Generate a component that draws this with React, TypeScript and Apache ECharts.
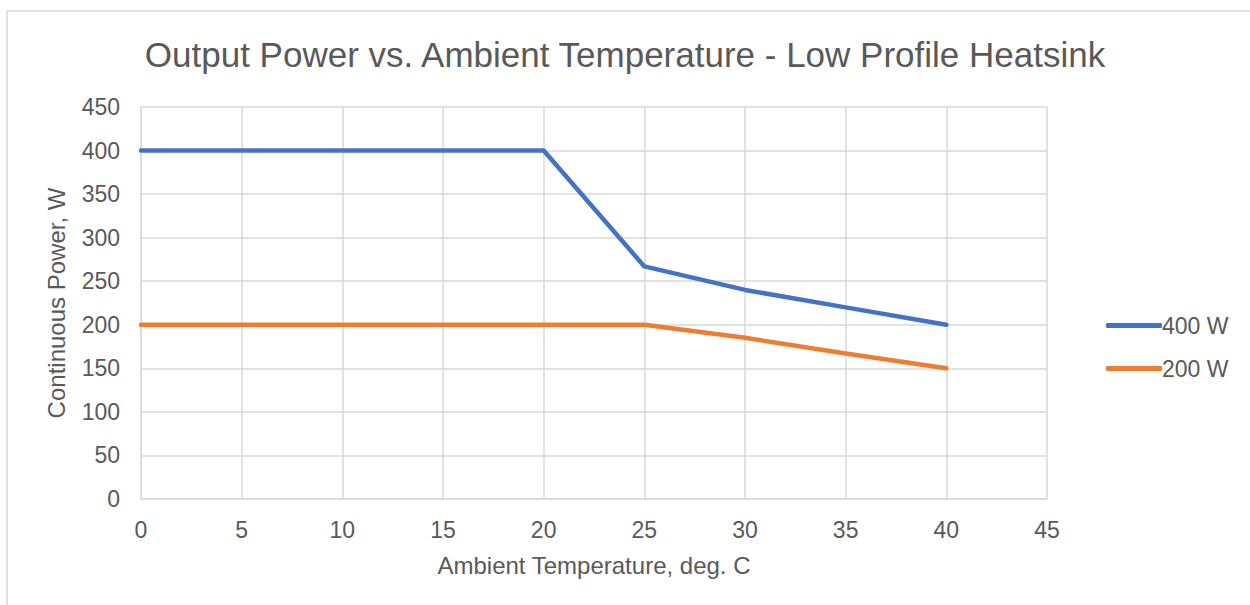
import React, { useEffect, useRef } from "react";
import * as echarts from "echarts";

const temperatures = [0, 5, 10, 15, 20, 25, 30, 35, 40];
const power400 = [400, 400, 400, 400, 400, 267, 240, 220, 200];
const power200 = [200, 200, 200, 200, 200, 200, 185, 167, 150];
const seriesNames = ["400 W", "200 W"];
const titleText = "Output Power vs. Ambient Temperature - Low Profile Heatsink";
const xName = "Ambient Temperature, deg. C";
const yName = "Continuous Power, W";

const FONT = "'Liberation Sans', Arial, sans-serif";
const TEXT = "#595959";
const GRID = "#d9d9d9";

export default function App() {
  const ref = useRef<HTMLDivElement>(null);
  useEffect(() => {
    if (!ref.current) return;
    const chart = echarts.init(ref.current, null, { renderer: "svg" });
    const toPairs = (ys: number[]) => temperatures.map((t, i) => [t, ys[i]]);
    chart.setOption({
      animation: false,
      backgroundColor: "#ffffff",
      textStyle: { fontFamily: FONT },
      graphic: [
        {
          type: "rect",
          shape: { x: 7, y: 11, width: 1260, height: 620 },
          style: { fill: "none", stroke: "#d9d9d9", lineWidth: 1.5 },
          silent: true,
        },
      ],
      title: {
        text: titleText,
        left: "center",
        top: 32,
        textStyle: { fontFamily: FONT, fontSize: 35, fontWeight: "normal", color: TEXT },
      },
      grid: { left: 141, right: 203, top: 107, bottom: 106 },
      legend: {
        orient: "vertical",
        left: 1101,
        top: 309,
        icon: "roundRect",
        itemWidth: 56,
        itemHeight: 5,
        itemGap: 20,
        textStyle: { fontFamily: FONT, fontSize: 23, color: TEXT, padding: [0, 0, 0, -5] },
        data: seriesNames,
      },
      xAxis: {
        type: "value",
        min: 0,
        max: 45,
        interval: 5,
        name: xName,
        nameLocation: "middle",
        nameGap: 54,
        nameTextStyle: { fontFamily: FONT, fontSize: 24, color: TEXT },
        axisLine: { show: true, lineStyle: { color: GRID, width: 1.5 } },
        axisTick: { show: false },
        axisLabel: { fontFamily: FONT, fontSize: 23, color: TEXT, margin: 19 },
        splitLine: { show: true, lineStyle: { color: GRID, width: 1.5 } },
      },
      yAxis: {
        type: "value",
        min: 0,
        max: 450,
        interval: 50,
        name: yName,
        nameLocation: "middle",
        nameGap: 73,
        nameTextStyle: { fontFamily: FONT, fontSize: 24, color: TEXT },
        axisLine: { show: true, lineStyle: { color: GRID, width: 1.5 } },
        axisTick: { show: false },
        axisLabel: { fontFamily: FONT, fontSize: 23, color: TEXT, margin: 21 },
        splitLine: { show: true, lineStyle: { color: GRID, width: 1.5 } },
      },
      series: [
        {
          name: seriesNames[0],
          type: "line",
          data: toPairs(power400),
          symbol: "none",
          color: "#4472C4",
          lineStyle: { width: 4.5, color: "#4472C4", cap: "round", join: "round" },
        },
        {
          name: seriesNames[1],
          type: "line",
          data: toPairs(power200),
          symbol: "none",
          color: "#ED7D31",
          lineStyle: { width: 4.5, color: "#ED7D31", cap: "round", join: "round" },
        },
      ],
    });
    return () => chart.dispose();
  }, []);
  return (
    <div
      ref={ref}
      style={{ position: "absolute", left: 0, top: 0, width: 1250, height: 605 }}
    />
  );
}
